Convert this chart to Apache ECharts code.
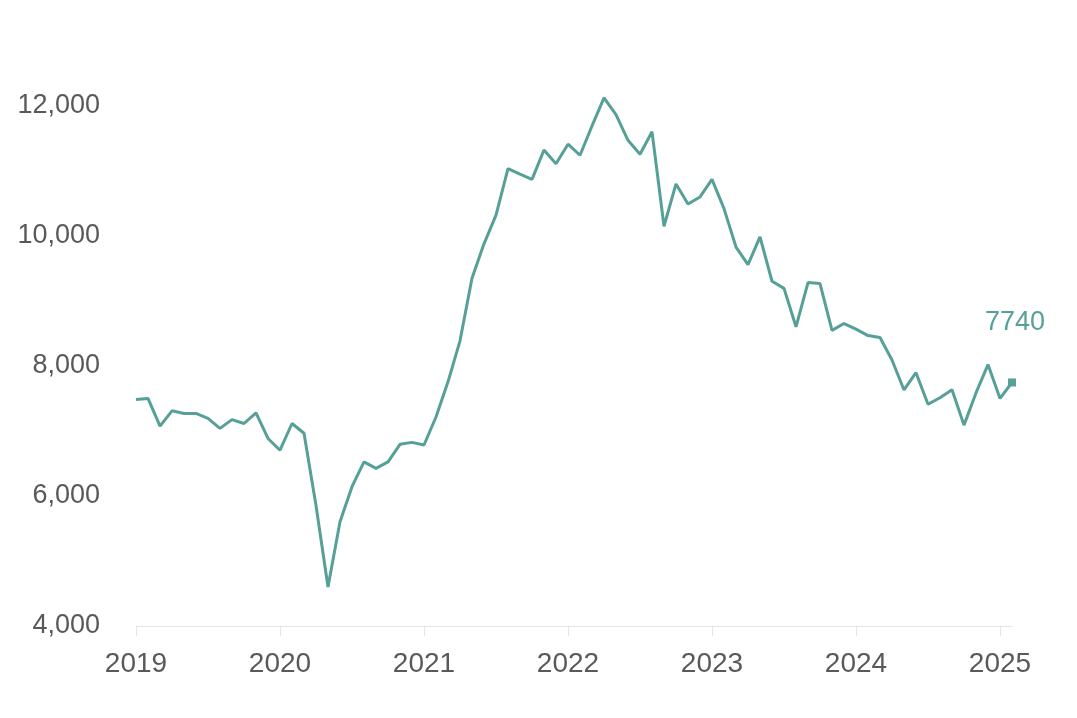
<!DOCTYPE html>
<html>
<head>
<meta charset="utf-8">
<script src="https://cdn.jsdelivr.net/npm/echarts@6/dist/echarts.min.js"></script>
<style>
html,body{margin:0;padding:0;background:#fff;}
#chart{width:1077px;height:718px;}
</style>
</head>
<body>
<div id="chart"></div>
<script>
// Data (monthly, Jan 2019 – Feb 2025)
var years = ['2019','2020','2021','2022','2023','2024','2025'];
var monthsInLastYear = 2;
var values = [
  7480, 7495, 7070, 7305, 7265, 7265, 7190, 7035, 7170, 7110, 7275, 6880,
  6700, 7110, 6960, 5850, 4600, 5600, 6140, 6520, 6420, 6520, 6790, 6820,
  6780, 7210, 7750, 8380, 9340, 9870, 10310, 11025, 10940, 10860, 11310, 11100,
  11400, 11230, 11680, 12110, 11855, 11460, 11245, 11590, 10140, 10790, 10480, 10590,
  10860, 10410, 9820, 9550, 9975, 9295, 9185, 8595, 9275, 9260, 8540, 8645,
  8560, 8460, 8430, 8085, 7625, 7890, 7405, 7505, 7630, 7085, 7580, 8015,
  7495, 7740
];
var lastLabel = '7740';

var categories = [];
years.forEach(function (y, yi) {
  var n = (yi === years.length - 1) ? monthsInLastYear : 12;
  for (var m = 1; m <= n; m++) {
    categories.push(y + '-' + (m < 10 ? '0' + m : m));
  }
});

var color = '#56A097';
var seriesData = values.map(function (v, i) {
  if (i === values.length - 1) {
    return {
      value: v,
      symbol: 'rect',
      symbolSize: 8,
      itemStyle: { color: color },
      label: {
        show: true,
        position: 'top',
        distance: 42,
        offset: [3, 0],
        formatter: lastLabel,
        color: color,
        fontSize: 27,
        fontFamily: 'Liberation Sans'
      }
    };
  }
  return v;
});

var chart = echarts.init(document.getElementById('chart'));
chart.setOption({
  animation: false,
  backgroundColor: '#ffffff',
  grid: { left: 136, right: 65, top: 40, bottom: 92, containLabel: false },
  xAxis: {
    type: 'category',
    data: categories,
    boundaryGap: false,
    axisLine: { show: true, lineStyle: { color: '#e3e6e6', width: 1 } },
    axisTick: {
      show: true,
      length: 10,
      interval: function (idx) { return idx % 12 === 0; },
      lineStyle: { color: '#e3e6e6' }
    },
    axisLabel: {
      interval: function (idx) { return idx % 12 === 0; },
      formatter: function (v) { return v.slice(0, 4); },
      color: '#595959',
      fontSize: 28,
      fontFamily: 'Liberation Sans',
      margin: 24
    },
    splitLine: { show: false }
  },
  yAxis: {
    type: 'value',
    min: 4000,
    max: 13000,
    interval: 2000,
    axisLine: { show: false },
    axisTick: { show: false },
    splitLine: { show: false },
    axisLabel: {
      showMaxLabel: false,
      color: '#595959',
      fontSize: 27,
      fontFamily: 'Liberation Sans',
      margin: 36,
      formatter: function (v) { return v % 2000 === 0 ? v.toLocaleString('en-US') : ''; }
    }
  },
  series: [{
    type: 'line',
    data: seriesData,
    symbol: 'none',
    showSymbol: true,
    showAllSymbol: true,
    lineStyle: { color: color, width: 3 },
    itemStyle: { color: color },
    label: { show: false },
    emphasis: { disabled: true }
  }]
});
</script>
</body>
</html>
